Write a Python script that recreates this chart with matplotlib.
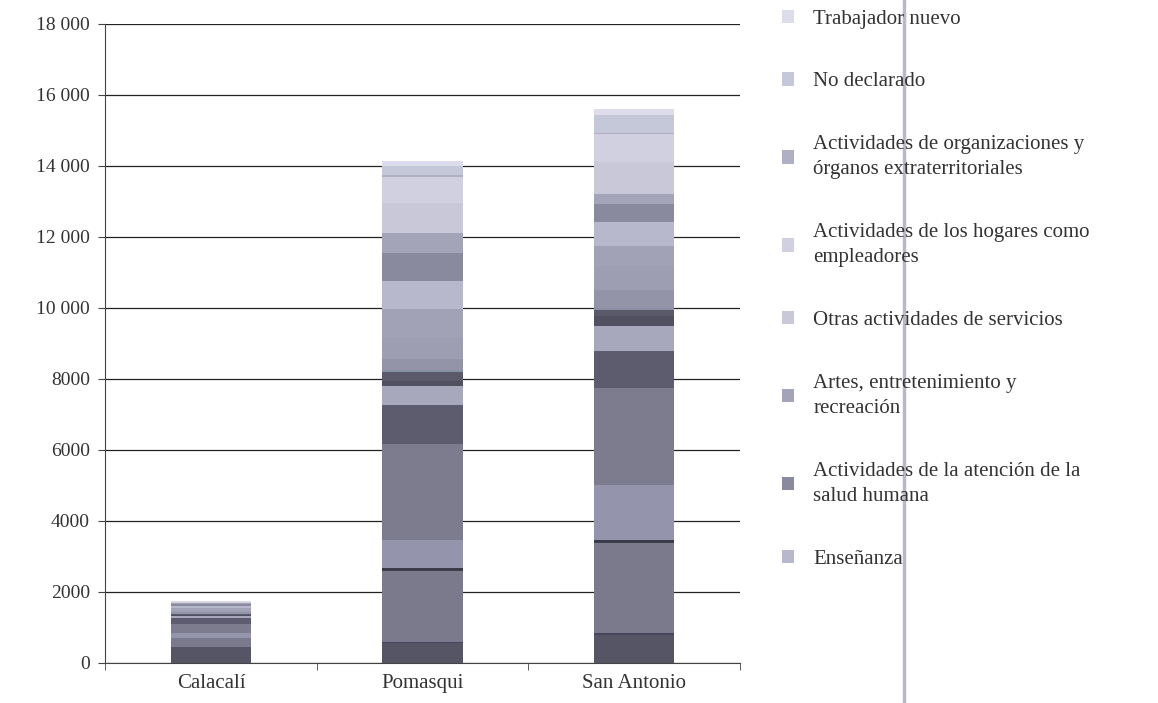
import numpy as np
import matplotlib.pyplot as plt
from matplotlib.lines import Line2D
from matplotlib.patches import Patch

# ===== DATOS =====
parroquias = ["Calacalí", "Pomasqui", "San Antonio"]

ramas = [
    "Agricultura", "Minas", "Manufactura", "Electricidad", "Agua",
    "Construcción", "Comercio", "Transporte", "Alojamiento", "Información",
    "Financieras", "Inmobiliarias", "Profesionales", "Administrativas",
    "Administración pública", "Enseñanza",
    "Actividades de la atención de la\nsalud humana",
    "Artes, entretenimiento y\nrecreación",
    "Otras actividades de servicios",
    "Actividades de los hogares como\nempleadores",
    "Actividades de organizaciones y\nórganos extraterritoriales",
    "No declarado", "Trabajador nuevo",
]

calacali = [450, 10, 240, 5, 10, 140, 250, 150, 80, 20, 20, 10, 40, 50, 80,
            60, 40, 20, 20, 10, 2, 15, 10]
pomasqui = [560, 40, 2000, 30, 40, 800, 2710, 1090, 530, 150, 250, 60, 300,
            600, 800, 810, 780, 560, 840, 750, 30, 270, 150]
san_antonio = [800, 30, 2550, 30, 40, 1550, 2750, 1050, 700, 270, 160, 80,
               500, 680, 560, 670, 500, 300, 880, 800, 20, 500, 180]

colores = ["#555566", "#46465a", "#7a7a8c", "#3e3e4c", "#3a3a48",
           "#9494ac", "#7c7c8e", "#5c5c6e", "#a8a8bc", "#505060",
           "#5a5a6a", "#8890a4", "#9494a8", "#9e9eb2", "#a2a2b6",
           "#b8b8cc", "#8a8a9e", "#a4a4b8", "#c8c8d8", "#d0d0e0",
           "#b0b0c4", "#c4c8d8", "#dcdcea"]

yticks = [0, 2000, 4000, 6000, 8000, 10000, 12000, 14000, 16000, 18000]
ylabels = ["0", "2000", "4000", "6000", "8000", "10 000", "12 000",
           "14 000", "16 000", "18 000"]

# ===== GRAFICO =====
plt.rcParams['font.family'] = ['Liberation Serif', 'DejaVu Serif']
fig = plt.figure(figsize=(11.58, 7.03), dpi=100)
ax = fig.add_axes([0.091, 0.057, 0.548, 0.909])

valores = np.array([calacali, pomasqui, san_antonio]).T
x = np.arange(len(parroquias))
base = np.zeros(len(parroquias))
for i, fila in enumerate(valores):
    ax.bar(x, fila, bottom=base, width=0.38, color=colores[i], zorder=3)
    base += fila

ax.set_ylim(0, 18000)
ax.set_xlim(-0.5, 2.5)
ax.set_yticks(yticks)
ax.set_yticklabels(ylabels, fontsize=14, color="#333333")
ax.set_xticks(x)
ax.set_xticklabels(parroquias, fontsize=15, color="#333333")
ax.set_xticks([-0.5, 0.5, 1.5, 2.5], minor=True)
ax.tick_params(axis='x', which='major', length=0, pad=8)
ax.tick_params(axis='x', which='minor', length=5, direction='out', color='#444444')
ax.tick_params(axis='y', length=5, direction='out', color='#444444', pad=6)
ax.grid(axis='y', color='#222222', linewidth=0.9, zorder=1)
for s in ['top', 'right']:
    ax.spines[s].set_visible(False)
ax.spines['left'].set_color('#444444')
ax.spines['bottom'].set_color('#444444')

# leyenda (solo las ultimas series, orden invertido)
idx = list(range(len(ramas) - 1, len(ramas) - 9, -1))
handles = [Patch(facecolor=colores[i], edgecolor='none') for i in idx]
etiquetas = [ramas[i] for i in idx]
leg = fig.legend(handles, etiquetas, loc='upper left', bbox_to_anchor=(0.659, 1.013),
                 frameon=False, fontsize=15, labelspacing=2.1, handlelength=0.6,
                 handleheight=0.6, handletextpad=0.9, labelcolor="#333333")
for t in leg.get_texts():
    t.set_linespacing(1.45)

# linea vertical del escaneo
fig.add_artist(Line2D([0.781, 0.781], [0.0, 1.0], color='#b8b8cc', linewidth=2.5))

plt.savefig("out.png", dpi=100)
